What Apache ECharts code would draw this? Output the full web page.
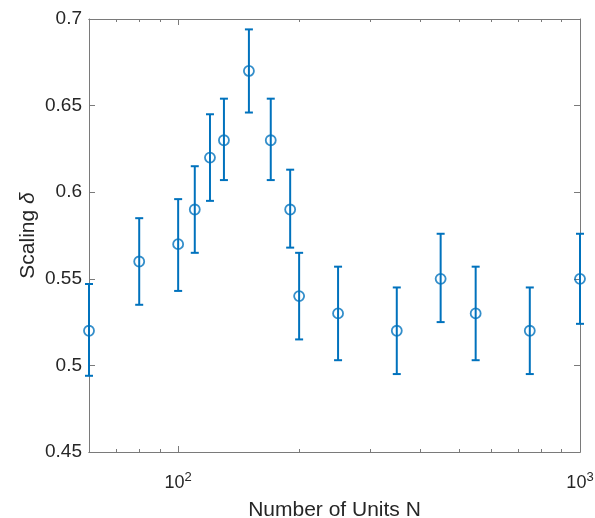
<!DOCTYPE html>
<html>
<head>
<meta charset="utf-8">
<script src="https://cdn.jsdelivr.net/npm/echarts@6/dist/echarts.min.js"></script>
<style>
  html, body { margin: 0; padding: 0; background: #fff; }
  #chart { width: 595px; height: 518px; }
</style>
</head>
<body>
<div id="chart"></div>
<script>
// data
var units = [60, 80, 100, 110, 120, 130, 150, 170, 190, 200, 250, 350, 450, 550, 750, 1000];
var scaling = [0.52, 0.56, 0.57, 0.59, 0.62, 0.63, 0.67, 0.63, 0.59, 0.54, 0.53, 0.52, 0.55, 0.53, 0.52, 0.55];
var errLow = [0.494, 0.535, 0.543, 0.565, 0.595, 0.607, 0.646, 0.607, 0.568, 0.515, 0.503, 0.495, 0.525, 0.503, 0.495, 0.524];
var errHigh = [0.547, 0.585, 0.596, 0.615, 0.645, 0.654, 0.694, 0.654, 0.613, 0.565, 0.557, 0.545, 0.576, 0.557, 0.545, 0.576];
var majorTicksX = [100, 1000];
var minorTicksX = [70, 80, 90, 200, 300, 400, 500, 600, 700, 800, 900];

var dom = document.getElementById("chart");
var myChart = echarts.init(dom, null, { renderer: "canvas" });

var blue = "#0072BD";
var lineGray = "#7a7a7a";
var textColor = "#262626";
var font = "Liberation Sans";

// one x axis per tick size / side (matlab box look)
function makeX(position, ticks, len, labels) {
  return {
    type: "log",
    logBase: 10,
    min: 60,
    max: 1000,
    position: position,
    axisLine: { show: true, lineStyle: { color: lineGray, width: 1 } },
    axisTick: { show: true, inside: true, length: len, customValues: ticks, lineStyle: { color: lineGray } },
    axisLabel: labels
      ? {
          show: true,
          customValues: majorTicksX,
          margin: 19,
          color: textColor,
          fontFamily: font,
          fontSize: 18,
          formatter: function (v) {
            return "10{s|" + Math.round(Math.log10(v)) + "}";
          },
          rich: { s: { fontSize: 13, fontFamily: font, color: textColor, padding: [0, 0, 12, 0] } },
        }
      : { show: false },
    splitLine: { show: false },
    name: labels ? "Number of Units N" : "",
    nameLocation: "middle",
    nameGap: 48,
    nameTextStyle: { color: textColor, fontFamily: font, fontSize: 21 },
  };
}

function makeY(position, labels) {
  return {
    type: "value",
    min: 0.45,
    max: 0.7,
    interval: 0.05,
    position: position,
    axisLine: { show: true, lineStyle: { color: lineGray, width: 1 } },
    axisTick: { show: true, inside: true, length: 6, lineStyle: { color: lineGray } },
    axisLabel: { show: labels, margin: 7, padding: [6, 0, 0, 0], color: textColor, fontFamily: font, fontSize: 19 },
    splitLine: { show: false },
    name: labels ? "Scaling {d|δ}" : "",
    nameLocation: "middle",
    nameGap: 50,
    nameMoveOverlap: false,
    nameTextStyle: {
      color: textColor,
      fontFamily: font,
      fontSize: 21,
      rich: { d: { fontStyle: "italic", fontFamily: font, fontSize: 21, color: textColor } },
    },
  };
}

var points = units.map(function (n, i) {
  return [n, scaling[i], errLow[i], errHigh[i]];
});

var option = {
  animation: false,
  backgroundColor: "#fff",
  grid: { left: 89, right: 15, top: 19, bottom: 66, containLabel: false, outerBoundsMode: "none" },
  xAxis: [
    makeX("bottom", majorTicksX, 6, true),
    makeX("bottom", minorTicksX, 3, false),
    makeX("top", majorTicksX, 6, false),
    makeX("top", minorTicksX, 3, false),
  ],
  yAxis: [makeY("left", true), makeY("right", false)],
  series: [
    {
      type: "custom",
      clip: false,
      data: points,
      encode: { x: 0, y: [1, 2, 3] },
      renderItem: function (params, api) {
        var x = api.value(0);
        var lo = api.coord([x, api.value(2)]);
        var hi = api.coord([x, api.value(3)]);
        var cap = 4;
        var st = { stroke: blue, lineWidth: 2 };
        return {
          type: "group",
          children: [
            { type: "line", shape: { x1: lo[0], y1: lo[1], x2: hi[0], y2: hi[1] }, style: st },
            { type: "line", shape: { x1: lo[0] - cap, y1: lo[1], x2: lo[0] + cap, y2: lo[1] }, style: st },
            { type: "line", shape: { x1: hi[0] - cap, y1: hi[1], x2: hi[0] + cap, y2: hi[1] }, style: st },
          ],
        };
      },
      z: 2,
    },
    {
      type: "scatter",
      clip: false,
      data: points.map(function (p) { return [p[0], p[1]]; }),
      symbol: "circle",
      symbolSize: 10,
      itemStyle: { color: "rgba(255,255,255,0)", borderColor: blue, borderWidth: 1.8 },
      z: 3,
    },
  ],
};

myChart.setOption(option);
window.addEventListener("resize", myChart.resize);
</script>
</body>
</html>
